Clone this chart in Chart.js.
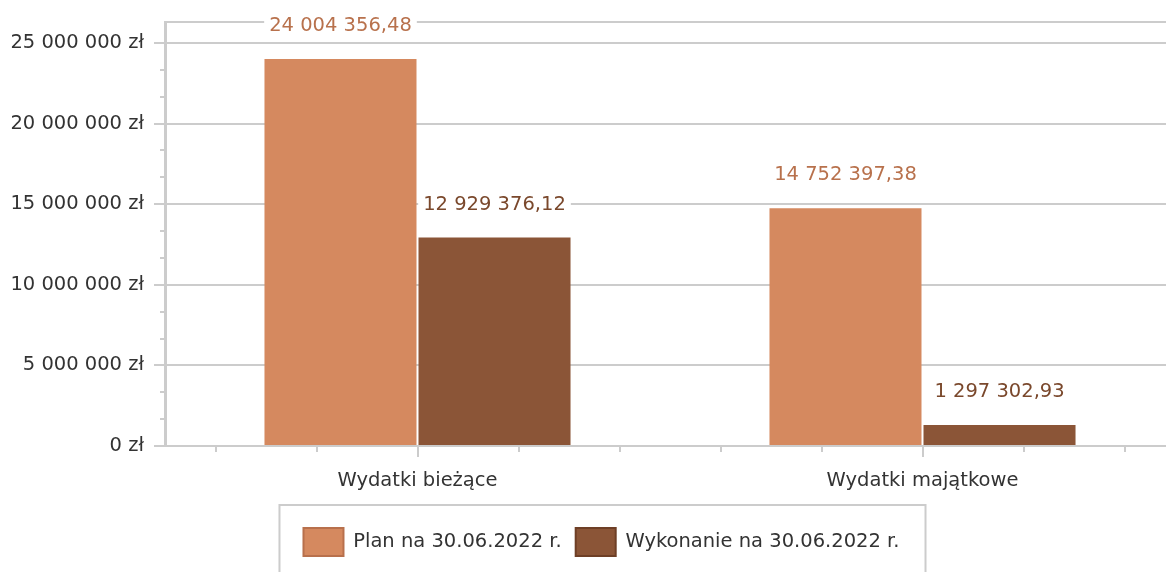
<!DOCTYPE html>
<html>
<head>
<meta charset="utf-8">
<script src="https://cdn.jsdelivr.net/npm/chart.js@4.4.0/dist/chart.umd.min.js"></script>
<style>
  html, body { margin: 0; padding: 0; background: #fff; overflow: hidden; }
  #wrap { width: 1180px; height: 572px; }
</style>
</head>
<body>
<div id="wrap"><canvas id="chart" width="1180" height="572"></canvas></div>
<script>
// Chart data
const categories = ['Wydatki bieżące', 'Wydatki majątkowe'];
const seriesNames = ['Plan na 30.06.2022 r.', 'Wykonanie na 30.06.2022 r.'];
const planValues = [24004356.48, 14752397.38];
const wykonanieValues = [12929376.12, 1297302.93];
const yTickValues = [0, 5000000, 10000000, 15000000, 20000000, 25000000];
const yMax = 26300000;

const FONT = 'DejaVu Sans';
const FONT_SIZE = 19.5;
const GRID = '#cccccc';
const TEXT = '#333333';
const barColors = ['#d5895f', '#8b5537'];
const edgeColors = ['#b8704c', '#6e3f26'];
const labelColors = ['#b8714c', '#7a482c'];
const LEGEND_SHIFT = 14;

// Polish style number: "24 004 356,48"
function formatPL(v, decimals) {
    const parts = v.toFixed(decimals).split('.');
    const intPart = parts[0].replace(/\B(?=(\d{3})+(?!\d))/g, ' ');
    return parts.length > 1 ? intPart + ',' + parts[1] : intPart;
}

// Value labels with white background above each bar
const barLabels = {
    id: 'barLabels',
    afterDatasetsDraw(chart) {
        const ctx = chart.ctx;
        ctx.save();
        ctx.font = FONT_SIZE + 'px "' + FONT + '"';
        ctx.textAlign = 'center';
        ctx.textBaseline = 'middle';
        chart.data.datasets.forEach((ds, i) => {
            chart.getDatasetMeta(i).data.forEach((bar, j) => {
                const text = formatPL(ds.data[j], 2);
                const w = ctx.measureText(text).width;
                const y = bar.y - 33;
                ctx.fillStyle = '#fff';
                ctx.fillRect(bar.x - w / 2 - 5, y - 11, w + 10, 22);
                ctx.fillStyle = labelColors[i];
                ctx.fillText(text, bar.x, y);
            });
        });
        ctx.restore();
    }
};

// Nudge the legend to the right, like the original
const legendShift = {
    id: 'legendShift',
    beforeDraw(chart) {
        const lg = chart.legend;
        if (!lg || lg._shiftDone) return;
        lg._shiftDone = true;
        lg.left += LEGEND_SHIFT;
        lg.right += LEGEND_SHIFT;
        (lg.legendHitBoxes || []).forEach(h => { h.left += LEGEND_SHIFT; });
    }
};

// Minor ticks on both axes and the frame around the legend
const axisExtras = {
    id: 'axisExtras',
    afterDraw(chart) {
        const ctx = chart.ctx;
        const x = chart.scales.x;
        const y = chart.scales.y;
        const area = chart.chartArea;
        ctx.save();
        ctx.strokeStyle = GRID;
        ctx.lineWidth = 2;
        // y minor ticks (thirds of a step)
        const step = yTickValues[1];
        for (let k = 1; k * step / 3 < yMax; k++) {
            if (k % 3 === 0) continue;
            const py = Math.round(y.getPixelForValue(k * step / 3));
            ctx.beginPath();
            ctx.moveTo(area.left - 5, py);
            ctx.lineTo(area.left, py);
            ctx.stroke();
        }
        // x ticks: long at category centres, short in between
        for (let j = 0; j < 10; j++) {
            const idx = -0.4 + 0.2 * j;
            const px = Math.round(x.getPixelForValue(idx));
            const major = Math.abs(idx - Math.round(idx)) < 1e-6;
            ctx.beginPath();
            ctx.moveTo(px, area.bottom);
            ctx.lineTo(px, area.bottom + (major ? 11 : 6));
            ctx.stroke();
        }
        // legend frame (open at the bottom)
        const boxes = chart.legend.legendHitBoxes;
        if (boxes && boxes.length) {
            const first = boxes[0];
            const last = boxes[boxes.length - 1];
            const l = first.left - 24;
            const r = last.left + last.width + 26;
            const t = first.top - 23;
            ctx.beginPath();
            ctx.moveTo(l, chart.height + 5);
            ctx.lineTo(l, t);
            ctx.lineTo(r, t);
            ctx.lineTo(r, chart.height + 5);
            ctx.stroke();
        }
        ctx.restore();
    }
};

const ctx = document.getElementById('chart').getContext('2d');
const chart = new Chart(ctx, {
    type: 'bar',
    data: {
        labels: categories,
        datasets: [
            { label: seriesNames[0], data: planValues, backgroundColor: barColors[0], borderWidth: 0 },
            { label: seriesNames[1], data: wykonanieValues, backgroundColor: barColors[1], borderWidth: 0 }
        ]
    },
    options: {
        responsive: false,
        animation: false,
        devicePixelRatio: 1,
        categoryPercentage: 0.61,
        barPercentage: 0.987,
        layout: { padding: { top: 22, right: 5, bottom: 6, left: 0 } },
        plugins: {
            tooltip: { enabled: false },
            legend: {
                position: 'bottom',
                labels: {
                    boxWidth: 40,
                    boxHeight: 28,
                    padding: 14,
                    color: TEXT,
                    font: { family: FONT, size: FONT_SIZE },
                    generateLabels(chart) {
                        return Chart.defaults.plugins.legend.labels.generateLabels(chart).map((item, i) => {
                            item.strokeStyle = edgeColors[i];
                            item.lineWidth = 2;
                            return item;
                        });
                    }
                }
            }
        },
        scales: {
            x: {
                grid: { drawOnChartArea: false, drawTicks: false, color: 'transparent' },
                border: { display: true, color: GRID, width: 2 },
                ticks: { color: TEXT, font: { family: FONT, size: FONT_SIZE }, padding: 23 },
                afterFit(scale) { scale.height = 68; }
            },
            y: {
                min: 0,
                max: yMax,
                afterBuildTicks(scale) {
                    scale.ticks = yTickValues.concat([yMax]).map(v => ({ value: v }));
                },
                grid: {
                    color: GRID,
                    lineWidth: 2,
                    tickLength: 11,
                    tickColor: (c) => (c.tick && c.tick.value === yMax) ? 'transparent' : GRID
                },
                border: { display: true, color: GRID, width: 3 },
                ticks: {
                    color: TEXT,
                    font: { family: FONT, size: FONT_SIZE },
                    padding: 10,
                    autoSkip: false,
                    callback: (v) => v === yMax ? '' : formatPL(v, 0) + ' zł'
                },
                afterFit(scale) { scale.width = 165; }
            }
        }
    },
    plugins: [barLabels, legendShift, axisExtras]
});
</script>
</body>
</html>
